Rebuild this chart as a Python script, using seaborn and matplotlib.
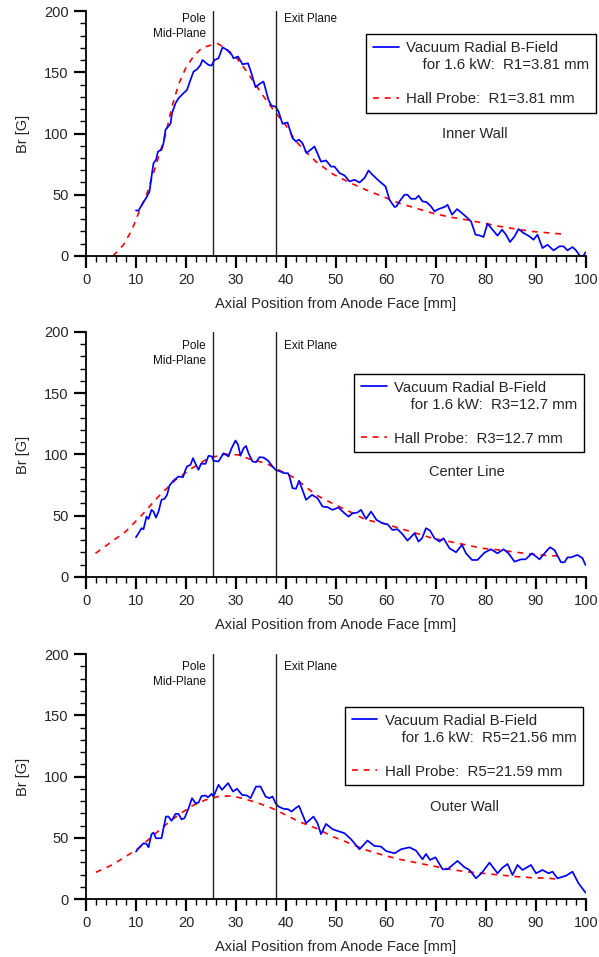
import matplotlib
matplotlib.use("Agg")
import matplotlib.pyplot as plt
import matplotlib.transforms as mtransforms
from matplotlib.lines import Line2D
from matplotlib.ticker import MultipleLocator
import pandas as pd
import seaborn as sns

# ---- Inner wall (R1) ----
inner_vac_x = [10, 10.5, 11.2, 12.2, 12.7, 13.2, 13.5, 14, 14.4, 15.1, 15.5, 15.9, 16.9, 17.2,
               17.9, 18.5, 19.5, 20.2, 20.9, 21.5, 22.2, 22.9, 23.3, 23.9, 24.5, 25.1, 25.7,
               26.5, 27.3, 28.2, 29.2, 29.5, 30.4, 31.3, 32.4, 33.1, 33.9, 34.9, 35.5, 36.5,
               37.1, 37.9, 38.5, 39.3, 40.3, 41.3, 42, 42.6, 43.3, 44.1, 45.7, 47, 48, 49,
               49.7, 50.7, 51.7, 52.7, 53.7, 54.7, 55.7, 56.5, 57.3, 58.7, 59.9, 60.7, 61.7,
               62.1, 62.7, 63.7, 64.3, 65, 65.9, 66.5, 67.3, 68.1, 69, 69.7, 70.5, 71.7, 72.3,
               73.2, 74.2, 75.2, 76.3, 77, 77.9, 78.7, 79.5, 80.3, 81.3, 82.3, 83.2, 84, 84.8,
               85.7, 86.5, 87.5, 88.7, 89.5, 90.3, 91.3, 92.3, 93.5, 94.7, 95.5, 96.3, 97.3,
               98, 98.8, 99.5, 99.9]
inner_vac_b = [37.2, 37, 42, 48.6, 52.7, 67.7, 75.8, 78.5, 85.3, 86.7, 92, 103, 108, 116.6,
               124.7, 128.8, 132.9, 135.6, 143.8, 150.5, 152.4, 156, 160, 157.9, 156, 155.4, 160,
               161.4, 170.4, 168.2, 164, 161.4, 162.8, 156.5, 157.3, 149, 137.8, 141, 142.4, 127.4,
               122.6, 122, 118, 107.9, 109, 96.2, 93.5, 95, 92, 84, 89.4, 77, 78, 73,
               73, 67.7, 65.8, 60.9, 62.2, 60, 63.6, 69.8, 66.3, 60.9, 56.8, 45.9, 40,
               40.5, 44.6, 50, 50, 46.7, 46.7, 49.2, 44.6, 44, 40.5, 36.4, 38.3, 40, 41.8,
               33.7, 38.3, 35, 31, 28.3, 17.4, 16.8, 15.5, 26.4, 21.5, 16.6, 21.5, 17.4, 11.4,
               16, 22, 18.8, 16, 13.3, 17.4, 6.5, 9.2, 4.6, 7.9, 7.9, 4.6, 7.3,
               4.6, 0, 0.3, 3]
inner_hall_x = [5.4, 7.5, 9.2, 10.9, 12.2, 13.9, 15.9, 17.2, 18.5, 19.9, 21.5, 23.2, 25.2, 26.2,
                27.9, 29.9, 31.9, 33.9, 35.9, 37.9, 39.9, 41.9, 44, 46, 49.3, 52.7, 56, 59.3,
                62.7, 66, 69.3, 72.7, 76, 79.3, 82.7, 86, 89.3, 92.7, 95]
inner_hall_b = [0, 9.2, 21.5, 39, 51, 73, 99, 122, 140, 153, 163, 170, 172.3, 173.6,
                169.6, 162.8, 152, 140, 128, 117, 107, 94, 85, 77, 67, 60, 54, 48.6,
                43, 39, 35, 31.8, 29.6, 27, 24.2, 22, 20, 18.8, 18]

# ---- Center line (R3) ----
center_vac_x = [10, 10.5, 11.1, 11.5, 12.1, 12.5, 13.1, 13.5, 14, 14.5, 15.1, 15.7, 16.2, 16.7,
                17.5, 18.5, 19.4, 19.9, 20.2, 20.9, 21.4, 21.9, 22.5, 23, 23.9, 24.5, 25.2,
                25.5, 26.5, 27.5, 28.5, 29.1, 29.9, 30.4, 30.9, 31.5, 32, 32.5, 33.3, 34, 34.7,
                35.5, 36.4, 37.2, 37.9, 38.9, 39.7, 40.4, 40.7, 41.3, 42, 42.6, 43.3, 44, 45.2,
                46.3, 47.3, 48.3, 49.3, 50.5, 51.7, 52.5, 53.3, 54.3, 55, 56, 57, 58.1, 59.3,
                60.3, 61.3, 62.3, 63.3, 64.3, 65.7, 66.5, 67.2, 68, 68.8, 69.7, 70.7, 71.5,
                72.7, 74, 75.2, 76, 77.2, 78.3, 79.7, 81, 82.3, 83.5, 84.5, 85.7, 87, 87.9,
                89.2, 90.7, 92, 92.8, 93.7, 95, 95.7, 96.3, 97, 98.3, 99.3, 99.9]
center_vac_b = [32.4, 35.7, 39.8, 39, 49.3, 47.4, 54.8, 53.4, 48.5, 53.4, 63, 63.8, 67, 74.7,
                78.7, 82, 81.5, 87.5, 90.2, 91.6, 97, 92.4, 87.5, 92.4, 92.4, 98.9, 98.4,
                94.8, 94.3, 101, 98.4, 105, 111.4, 108, 99, 105, 107, 101, 94.3, 93.7, 97.8,
                97.5, 95, 90.7, 87.5, 86, 84.7, 84.7, 82, 72.5, 72, 78.5, 71, 63, 67,
                64.3, 57.5, 57, 54.8, 56.7, 52, 49.3, 52, 52.6, 54.8, 47.4, 53.4, 46.6, 43.9,
                43, 38.4, 39, 34.9, 29.7, 35.7, 28.9, 31.6, 39.8, 37.9, 31.6, 28.9, 31.6,
                23.4, 20.2, 26.2, 19.3, 13.9, 13.9, 19.9, 22.6, 19.3, 22.6, 19.3, 12.5, 14.4, 14.4,
                19.3, 14.4, 20.7, 24.2, 22, 12, 12, 16, 16, 18, 15.3, 9.8]
center_hall_x = [1.9, 4.5, 7.9, 11.2, 14.5, 17.9, 21.2, 24.5, 27.9, 30.5, 33.2, 35.9, 38.5, 41.2,
                 42.6, 46, 49.3, 52.7, 56, 59.3, 62.7, 66, 69.3, 72.7, 76, 79.3, 82.7, 86,
                 89.3, 92.7, 94.3]
center_hall_b = [19.3, 27, 37, 50.7, 65.7, 79.3, 88.8, 97, 100.3, 99.7, 95.6, 93, 87.5, 82,
                 78, 67, 60, 53.4, 46.6, 43.9, 39.8, 35.7, 31.6, 28.9, 26.2, 23.4, 22, 20.2,
                 18.5, 17.4, 17.2]

# ---- Outer wall (R5) ----
outer_vac_x = [10, 10.5, 11.5, 12.1, 12.5, 13.1, 13.5, 14, 15.1, 15.5, 16, 16.5, 17.1, 17.9,
               18.5, 19.1, 19.7, 20.5, 21.2, 21.9, 22.5, 23.1, 23.9, 24.4, 25.1, 25.5, 26.5,
               27.2, 28.4, 29.4, 30.2, 31.2, 32.2, 32.9, 34, 34.9, 35.9, 36.7, 37.3, 37.9, 38.5,
               39.5, 40.4, 41.1, 41.9, 42.6, 44, 45.5, 46.3, 47, 48, 49.3, 50.3, 51.7, 53,
               54.7, 56.3, 57.7, 59, 60, 61.7, 63, 64.7, 66, 67.3, 68, 68.8, 69.9, 71.3, 72.3,
               74.3, 75.7, 76.7, 78, 79.2, 80.7, 82.3, 83.3, 84.3, 85.3, 86.3, 87.3, 89, 90,
               91.3, 92.5, 93.3, 94.3, 96, 97.3, 98.5, 99.9]
outer_vac_b = [38.7, 41.4, 45.5, 45, 42.2, 52.9, 54.2, 49.6, 49.6, 57.8, 67.3, 67.3, 63.8, 69.5,
               69.5, 65, 66, 74, 82.3, 78.2, 78.7, 84, 84.5, 83, 85.8, 83.7, 93.2,
               89.1, 94.6, 87.7, 90, 85, 84.5, 82.3, 91.8, 91.8, 83.7, 82.3, 83.7, 78.2, 75.5,
               73.6, 73.3, 71.4, 74.1, 76, 61.9, 67.3, 61.9, 52.9, 61.3, 57, 55.6, 53.7, 48.8,
               40.6, 47.7, 43.3, 42.8, 39.2, 37.3, 40.6, 42.2, 39.5, 32.4, 36.8, 31.9, 34, 24.3, 24.3,
               31.1, 25.9, 23.7, 16.9, 21.5, 29.7, 21, 25.6, 28.6, 19.6, 27.8, 23.7, 27.8, 21,
               23.7, 21, 22.3, 16.9, 19, 22.3, 12.8, 5.2]
outer_hall_x = [2, 5.2, 7.9, 10.5, 13.2, 15.9, 18.5, 21.2, 23.9, 26.5, 29.2, 31.9, 34.5, 37.2,
                39.9, 42.6, 46, 49.3, 52.7, 56, 59.3, 62.7, 66, 69.3, 72.7, 76, 79.3, 82.7,
                86, 89.3, 92.7, 94.7]
outer_hall_b = [21.8, 27.8, 34.6, 41.4, 51, 60.5, 68.7, 76, 80.9, 83.7, 84.2, 81.5, 78.2, 74.1,
                68.7, 63.2, 57.8, 51, 45.5, 40, 36, 32.4, 29.7, 27, 24.3, 22.3, 21, 19.6,
                18.3, 17.4, 16.9, 16]

region_names = ["Inner Wall", "Center Line", "Outer Wall"]
vac_labels = ["for 1.6 kW:  R1=3.81 mm", "for 1.6 kW:  R3=12.7 mm", "for 1.6 kW:  R5=21.56 mm"]
hall_labels = ["Hall Probe:  R1=3.81 mm", "Hall Probe:  R3=12.7 mm", "Hall Probe:  R5=21.59 mm"]
pole_x = 25.3
exit_x = 38.0

sns.set_style("ticks")
plt.rcParams["font.family"] = ["Liberation Sans", "DejaVu Sans"]

BLUE = "#0000ff"
RED = "#ff0000"
RED_DASH = (0, (3.5, 3.5))

fig = plt.figure(figsize=(5.99, 9.57), dpi=100)

panels = [
    dict(vx=inner_vac_x, vb=inner_vac_b, hx=inner_hall_x, hb=inner_hall_b,
         bottom=0.7325, legend_anchor=(1.02, 0.906), region_xy=(0.778, 0.498), note_y=0.992),
    dict(vx=center_vac_x, vb=center_vac_b, hx=center_hall_x, hb=center_hall_b,
         bottom=0.3971, legend_anchor=(0.996, 0.829), region_xy=(0.762, 0.429), note_y=0.967),
    dict(vx=outer_vac_x, vb=outer_vac_b, hx=outer_hall_x, hb=outer_hall_b,
         bottom=0.0606, legend_anchor=(0.994, 0.784), region_xy=(0.756, 0.376), note_y=0.971),
]

for i, p in enumerate(panels):
    ax = fig.add_axes([0.1436, p["bottom"], 0.8347, 0.2560])
    vac = pd.DataFrame({"z": p["vx"], "Br": p["vb"]})
    hall = pd.DataFrame({"z": p["hx"], "Br": p["hb"]})

    sns.lineplot(data=hall, x="z", y="Br", ax=ax, color=RED, lw=1.2,
                 linestyle=RED_DASH, estimator=None, sort=False)
    sns.lineplot(data=vac, x="z", y="Br", ax=ax, color=BLUE, lw=1.25,
                 estimator=None, sort=False)

    ax.axvline(pole_x, color="#222222", lw=1.0)
    ax.axvline(exit_x, color="#222222", lw=1.0)

    blend = mtransforms.blended_transform_factory(ax.transData, ax.transAxes)
    ax.text(pole_x - 1.4, p["note_y"], "Pole\nMid-Plane", transform=blend,
            ha="right", va="top", fontsize=8.5, linespacing=1.3, color="#111111")
    ax.text(exit_x + 1.6, p["note_y"], "Exit Plane", transform=blend,
            ha="left", va="top", fontsize=8.5, color="#111111")

    ax.text(p["region_xy"][0], p["region_xy"][1], region_names[i], transform=ax.transAxes,
            ha="center", va="center", fontsize=10.5)

    ax.set_xlim(0, 100)
    ax.set_ylim(0, 200)
    ax.xaxis.set_major_locator(MultipleLocator(10))
    ax.xaxis.set_minor_locator(MultipleLocator(2))
    ax.yaxis.set_major_locator(MultipleLocator(50))
    ax.yaxis.set_minor_locator(MultipleLocator(10))
    ax.tick_params(which="major", direction="out", length=8.5, width=1.6,
                   labelsize=10.5, pad=4, color="black")
    ax.tick_params(which="minor", direction="out", length=4.5, width=1.0, color="black")
    for side in ("top", "right"):
        ax.spines[side].set_visible(False)
    for side in ("left", "bottom"):
        ax.spines[side].set_linewidth(1.3)
        ax.spines[side].set_color("black")

    ax.set_xlabel("Axial Position from Anode Face [mm]", fontsize=10.5)
    ax.set_ylabel("Br [G]", fontsize=10.5)
    ax.xaxis.set_label_coords(0.5, -0.168)
    ax.yaxis.set_label_coords(-0.112, 0.5)

    handles = [Line2D([], [], color=BLUE, lw=1.25),
               Line2D([], [], color="none"),
               Line2D([], [], color="none"),
               Line2D([], [], color=RED, lw=1.2, linestyle=RED_DASH)]
    labels = ["Vacuum Radial B-Field", "    " + vac_labels[i], " ", hall_labels[i]]
    leg = ax.legend(handles, labels, loc="upper right", bbox_to_anchor=p["legend_anchor"],
                    frameon=True, fancybox=False, edgecolor="black", framealpha=1,
                    fontsize=10.8, handlelength=1.7, handletextpad=0.5, borderpad=0.45,
                    labelspacing=0.2, borderaxespad=0)
    leg.get_frame().set_linewidth(1.0)

fig.savefig("out.png", dpi=100)
